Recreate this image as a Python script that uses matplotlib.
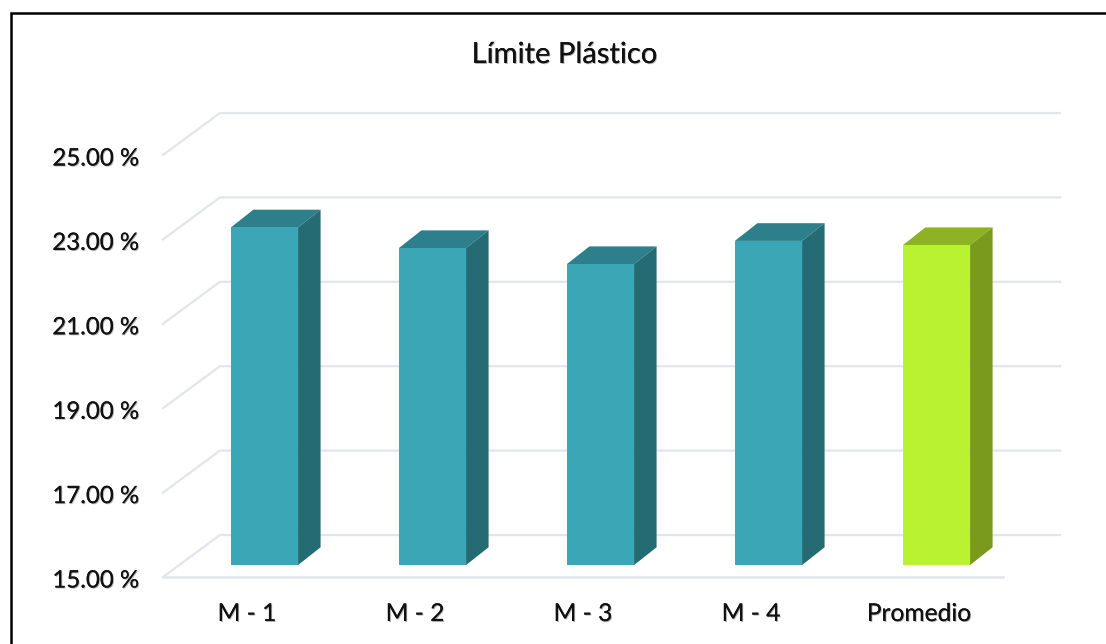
import matplotlib
matplotlib.use("Agg")
import matplotlib.pyplot as plt
import matplotlib.patheffects as pe
from matplotlib.lines import Line2D
from matplotlib.patches import Polygon
from matplotlib.transforms import ScaledTranslation

categories = ['M - 1', 'M - 2', 'M - 3', 'M - 4', 'Promedio']
values = [23.0, 22.51, 22.13, 22.68, 22.58]
yticks = [15, 17, 19, 21, 23, 25]
front_colors = ['#3AA6B6', '#3AA6B6', '#3AA6B6', '#3AA6B6', '#B8F231']
top_colors = ['#2D7F8B', '#2D7F8B', '#2D7F8B', '#2D7F8B', '#8DB324']
side_colors = ['#246B74', '#246B74', '#246B74', '#246B74', '#7A9A1E']

plt.rcParams['font.family'] = ['Lato', 'DejaVu Sans']
W, H = 1106, 644
GRID = '#E3E5EC'

# 3d look, in data units
wall_dx, wall_dy = 0.339, 0.995
bar_dx, bar_dy = 0.134, 0.42
bar_shift = 0.104
bar_lift = 0.284
bar_w = 0.40
shadow = [pe.withSimplePatchShadow(offset=(0.7, -0.7), shadow_rgbFace='#666666', alpha=0.5), pe.Normal()]

fig = plt.figure(figsize=(W/100, H/100), dpi=100)
ax = fig.add_axes([163/W, (H-577)/H, 840/W, 422/H])
ax.set_xlim(-0.5, 4.5)
ax.set_ylim(15, 25)
for s in ax.spines.values():
    s.set_visible(False)

# walls
for t in yticks:
    ax.plot([-0.5, -0.5+wall_dx, 4.5+wall_dx], [t, t+wall_dy, t+wall_dy], color=GRID, lw=1.6, clip_on=False, zorder=1, solid_joinstyle='miter')
ax.plot([-0.5, 4.5], [15, 15], color=GRID, lw=1.8, clip_on=False, zorder=1)

for i, v in enumerate(values):
    x0 = i + bar_shift - bar_w/2
    x1 = x0 + bar_w
    y0 = 15 + bar_lift
    y1 = v + bar_lift
    ax.bar(x0 + bar_w/2, y1-y0, width=bar_w, bottom=y0, color=front_colors[i], zorder=3, clip_on=False)
    ax.add_patch(Polygon([(x0, y1), (x1, y1), (x1+bar_dx, y1+bar_dy), (x0+bar_dx, y1+bar_dy)], closed=True, fc=top_colors[i], ec='none', zorder=2, clip_on=False))
    ax.add_patch(Polygon([(x1, y0), (x1, y1), (x1+bar_dx, y1+bar_dy), (x1+bar_dx, y0+bar_dy)], closed=True, fc=side_colors[i], ec='none', zorder=2, clip_on=False))

ax.set_xticks(range(len(categories)))
ax.set_xticklabels(categories, fontsize=17.7, color='#111111', path_effects=shadow)
ax.set_yticks(yticks)
ax.set_yticklabels(['%.2f %%' % t for t in yticks], fontsize=17.3, color='#111111', path_effects=shadow)
ax.tick_params(axis='x', length=0, pad=18)
ax.tick_params(axis='y', length=0, pad=18)
for lab in ax.get_yticklabels():
    lab.set_transform(lab.get_transform() + ScaledTranslation(0.01, -0.02, fig.dpi_scale_trans))

fig.text(564.5/W, 1-55/H, 'Límite Plástico', ha='center', va='center', fontsize=21, color='#111111', path_effects=shadow)

# outer frame, cut off at the bottom and right
fig.add_artist(Line2D([10.5/W, 10.5/W, 1], [0, 1-13/H, 1-13/H], color='black', lw=1.8, solid_joinstyle='miter'))

fig.savefig('out.png', dpi=100)
